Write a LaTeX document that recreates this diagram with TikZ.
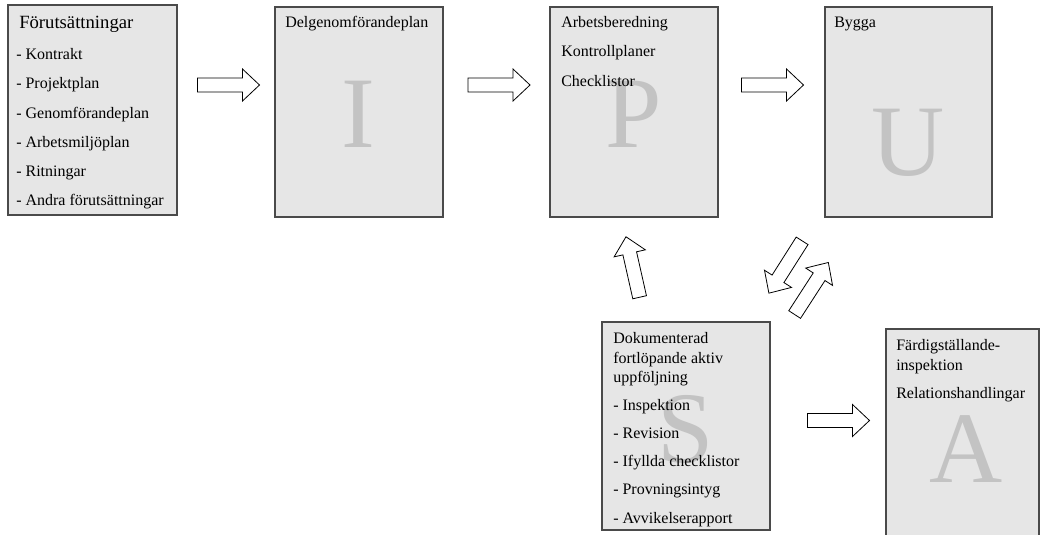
\documentclass[tikz,border=0pt]{standalone}
\usepackage{fontspec}
\setmainfont{Liberation Serif}
\usetikzlibrary{fit}
\definecolor{boxfill}{HTML}{E6E6E6}
\definecolor{boxline}{HTML}{4A4A4A}
\definecolor{bigletter}{HTML}{C3C3C3}
\begin{document}
\begin{tikzpicture}[x=0.75pt,y=-0.75pt,
  box/.style={draw=boxline, fill=boxfill, line width=0.9pt, inner sep=0pt},
  txt/.style={anchor=base west, inner sep=0pt, font=\fontsize{12}{14}\selectfont},
  headtxt/.style={txt, font=\fontsize{14}{16}\selectfont},
  letter/.style={anchor=base, inner sep=0pt, text=bigletter, font=\fontsize{76}{80}\selectfont},
  arrowline/.style={draw=black, fill=white, line width=0.6pt, line join=miter},
  blockarrow/.pic={\path[arrowline] (-31,-7) -- (14,-7) -- (14,-16) -- (31,0)
     -- (14,16) -- (14,7) -- (-31,7) -- cycle;}]
\useasboundingbox (0,0) rectangle (1042,535);

% boxes
\node[box, fit={(8,5) (177,215)}] (pre) {};
\node[box, fit={(275,7) (443,217)}] (del) {};
\node[box, fit={(550,7) (718,217)}] (arb) {};
\node[box, fit={(825,7) (992,217)}] (byg) {};
\node[box, fit={(602,322) (770,530)}] (dok) {};
\node[box, fit={(886,329) (1039,545)}] (fard) {};

% large phase letters
\node[letter] (lI) at (358,147) {I};
\node[letter] (lP) at (634,147) {P};
\node[letter] (lU) at (908,175) {U};
\node[letter] (lS) at (686,462) {S};
\node[letter] (lA) at (966,482) {A};

% box texts
\node[headtxt] (pre-h) at (19,29) {Förutsättningar};
\foreach \t [count=\i] in {Kontrakt, Projektplan, Genomförandeplan,
    Arbetsmiljöplan, Ritningar, Andra förutsättningar}
  \node[txt] (pre-\i) at (16,31+29*\i) {- \t};

\node[txt] (del-h) at (285,28) {Delgenomförandeplan};

\node[txt] (arb-1) at (561,28) {Arbetsberedning};
\node[txt] (arb-2) at (561,57) {Kontrollplaner};
\node[txt] (arb-3) at (561,87) {Checklistor};

\node[txt] (byg-h) at (834,28) {Bygga};

\node[txt] (dok-h1) at (613,343) {Dokumenterad};
\node[txt] (dok-h2) at (613,363) {fortlöpande aktiv};
\node[txt] (dok-h3) at (613,382) {uppföljning};
\foreach \t [count=\i] in {Inspektion, Revision, Ifyllda checklistor,
    Provningsintyg, Avvikelserapport}
  \node[txt] (dok-\i) at (613,381.75+28.25*\i) {- \t};

\node[txt] (fard-1) at (896,350) {Färdigställande-};
\node[txt] (fard-2) at (896,370) {inspektion};
\node[txt] (fard-3) at (896,398) {Relationshandlingar};

% block arrows between the phases
\pic (pre-del) at (228.5,85) {blockarrow};
\pic (del-arb) at (499,85) {blockarrow};
\pic (arb-byg) at (772.5,85) {blockarrow};
\pic (dok-fard) at (838.5,420.5) {blockarrow};
\pic[rotate=102.7] (dok-arb) at (632.8,267) {blockarrow};
\pic[rotate=237.6] (byg-dok) at (785.5,267) {blockarrow};
\pic[rotate=57.1] (dok-byg) at (811.5,288.5) {blockarrow};
\end{tikzpicture}
\end{document}
